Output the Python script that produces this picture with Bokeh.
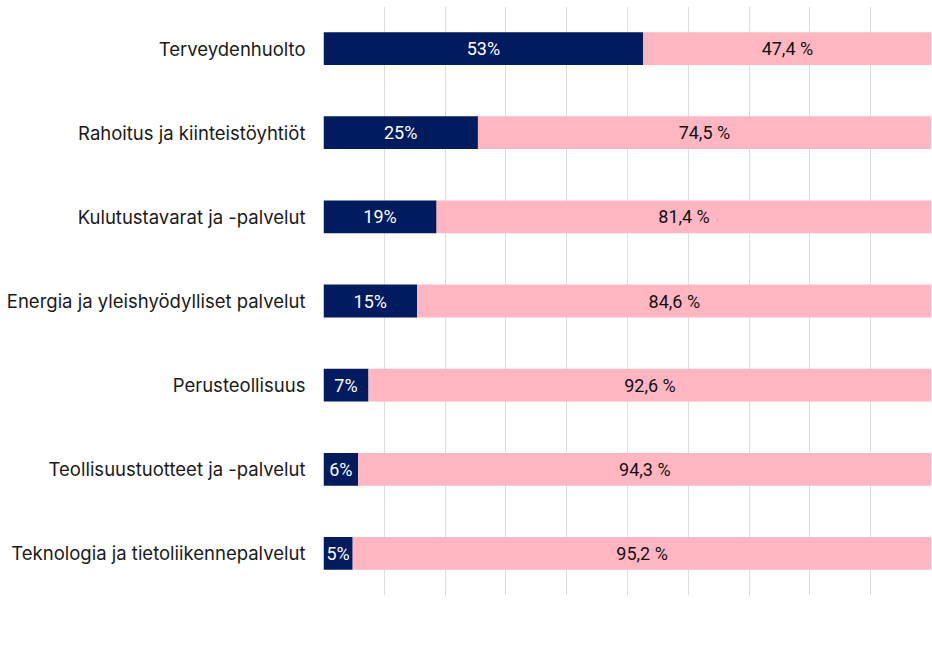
from bokeh.plotting import figure
from bokeh.models import ColumnDataSource, Legend, LegendItem, FixedTicker, LabelSet
from bokeh.core.properties import value
from bokeh.embed import file_html
from bokeh.resources import INLINE

categories = [
    "Terveydenhuolto",
    "Rahoitus ja kiinteistöyhtiöt",
    "Kulutustavarat ja -palvelut",
    "Energia ja yleishyödylliset palvelut",
    "Perusteollisuus",
    "Teollisuustuotteet ja -palvelut",
    "Teknologia ja tietoliikennepalvelut",
]
naiset = [52.6, 25.4, 18.6, 15.4, 7.4, 5.7, 4.8]
miehet = [47.4, 74.5, 81.4, 84.6, 92.6, 94.3, 95.2]
series_names = ["NAISET", "MIEHET"]
grid_ticks = [0, 10, 20, 30, 40, 50, 60, 70, 80, 90, 100]

NAVY = "#001b5e"
PINK = "#ffb6c1"

naiset_lbl = [f"{round(v)}%" for v in naiset]
miehet_lbl = [f"{v:.1f} %".replace(".", ",") for v in miehet]

src = ColumnDataSource(dict(
    cat=categories,
    naiset=naiset,
    miehet=miehet,
    n_mid=[v / 2 for v in naiset],
    m_mid=[n + m / 2 for n, m in zip(naiset, miehet)],
    n_lbl=naiset_lbl,
    m_lbl=miehet_lbl,
))

p = figure(
    frame_width=608, frame_height=589,
    y_range=list(reversed(categories)),
    x_range=(0, 100),
    output_backend="svg", toolbar_location=None,
    min_border_left=323, min_border_right=1, min_border_top=6, min_border_bottom=0,
)

r = p.hbar_stack(["naiset", "miehet"], y="cat", height=0.39, color=[NAVY, PINK],
                 line_color=None, source=src)

p.add_layout(LabelSet(x="n_mid", y="cat", text="n_lbl", source=src,
                      text_align="center", text_baseline="middle",
                      text_color="white", text_font=value("Roboto"),
                      text_font_size="18px"))
p.add_layout(LabelSet(x="m_mid", y="cat", text="m_lbl", source=src,
                      text_align="center", text_baseline="middle",
                      text_color="#111111", text_font=value("Roboto"),
                      text_font_size="18px"))

p.y_range.range_padding = 0

p.xaxis.visible = False
p.xgrid.ticker = FixedTicker(ticks=grid_ticks)
p.xgrid.grid_line_color = "#dddddd"
p.xgrid.grid_line_width = 1
p.ygrid.grid_line_color = None

p.yaxis.axis_line_color = None
p.yaxis.major_tick_line_color = None
p.yaxis.minor_tick_line_color = None
p.yaxis.major_tick_out = 0
p.yaxis.major_tick_in = 0
p.yaxis.major_label_text_font = "Inter"
p.yaxis.major_label_text_font_size = "18.5px"
p.yaxis.major_label_text_color = "#1a1a1a"
p.yaxis.major_label_standoff = 18

p.outline_line_color = None

legend = Legend(
    items=[LegendItem(label=series_names[0], renderers=[r[0]]),
           LegendItem(label=series_names[1], renderers=[r[1]])],
    orientation="horizontal",
    location=(-20, 0),
    glyph_width=26, glyph_height=22,
    label_text_font="Roboto", label_text_font_size="22px",
    label_text_color="#17356b",
    label_standoff=15, spacing=45,
    padding=16, margin=0,
    border_line_color=None, background_fill_alpha=0,
    label_height=22,
)
p.add_layout(legend, "below")

open("out.html", "w").write(file_html(p, INLINE))
